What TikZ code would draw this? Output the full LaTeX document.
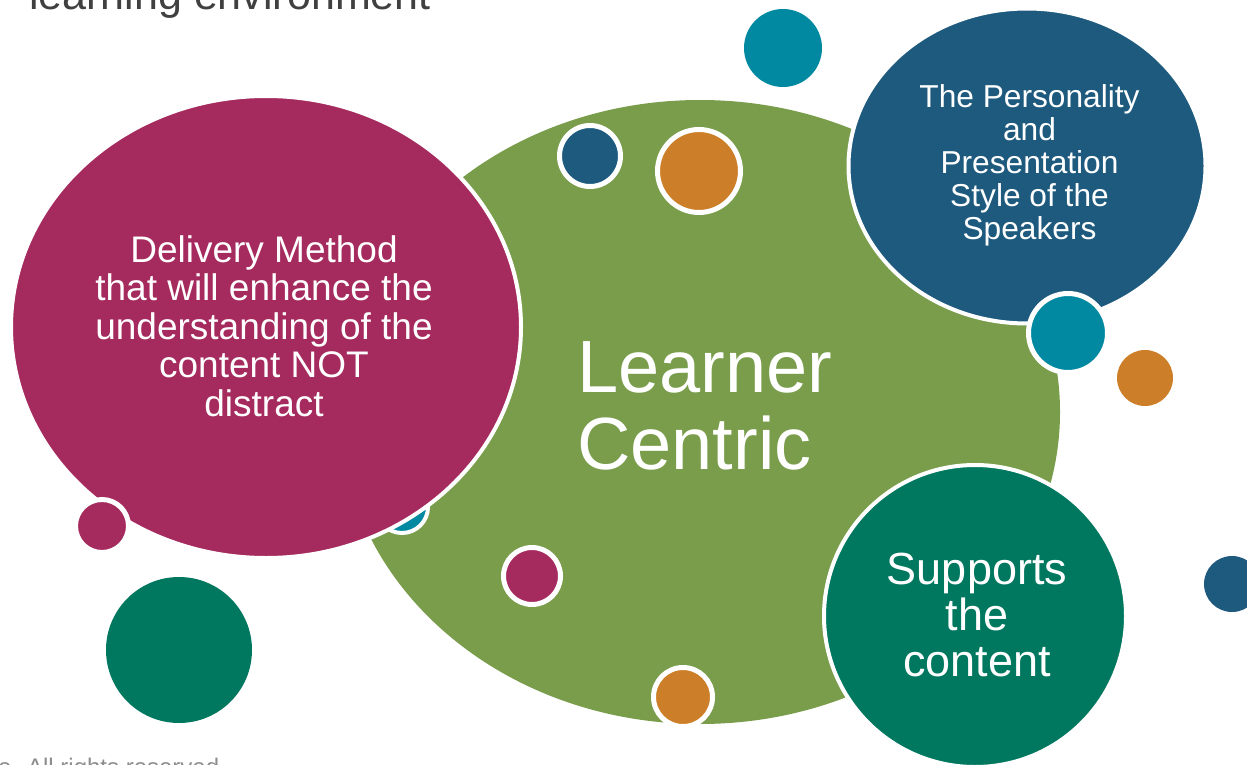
\documentclass[tikz,border=0pt]{standalone}
\usepackage{fontspec}
\setmainfont{Liberation Sans}
\usetikzlibrary{shapes.geometric}
\definecolor{lcgreen}{RGB}{122,157,75}
\definecolor{lcmagenta}{RGB}{165,42,94}
\definecolor{lcnavy}{RGB}{29,90,126}
\definecolor{lcteal}{RGB}{0,137,160}
\definecolor{lcorange}{RGB}{204,127,40}
\definecolor{lcdeep}{RGB}{0,119,95}
\definecolor{titlegray}{RGB}{64,64,64}
\definecolor{footgray}{RGB}{140,140,140}

\begin{document}
\begin{tikzpicture}[x=1pt,y=-1pt,
    ringed/.style={circle, inner sep=0pt, draw=white, line width=5pt},
    plain/.style={circle, inner sep=0pt},
    blob/.style={ellipse, inner sep=0pt, draw=white, line width=4pt},
    txt/.style={text=white, align=center, inner sep=0pt}]

    \useasboundingbox (0,0) rectangle (1247,765);
    \clip (0,0) rectangle (1247,765);

    \node (learner) [ellipse, inner sep=0pt, fill=lcgreen, minimum width=720pt, minimum height=624pt] at (700,412) {};
    \node (hidden) [ringed, line width=4pt, fill=lcteal, minimum size=52pt] at (402,507) {};
    \node (delivery) [blob, fill=lcmagenta, minimum width=510pt, minimum height=462pt] at (266,327) {};

    \foreach \p/\c/\d [count=\i] in {(102,526)/lcmagenta/53, (590,156)/lcnavy/61, (699,171)/lcorange/83, (532,576)/lcmagenta/57, (683,697)/lcorange/59}
        \node (ring\i) [ringed, fill=\c, minimum size=\d pt] at \p {};

    \node (personality) [blob, fill=lcnavy, minimum width=357pt, minimum height=315pt] at (1027,166) {};
    \node (tealring) [ringed, fill=lcteal, minimum size=79pt] at (1068,333) {};

    \foreach \p/\c/\d [count=\i] in {(783,48)/lcteal/78, (1145,378)/lcorange/56, (1232,584)/lcnavy/56, (179,650)/lcdeep/146}
        \node (dot\i) [plain, fill=\c, minimum size=\d pt] at \p {};

    \node (supports) [ringed, line width=4pt, fill=lcdeep, minimum size=302pt] at (975,616) {};

    \node (deliverytxt) [txt, font=\fontsize{37}{38.5}\selectfont] at (264,326) {Delivery Method\\that will enhance the\\understanding of the\\content NOT\\distract};
    \node (personalitytxt) [txt, font=\fontsize{31.7}{33}\selectfont] at (1029.5,165) {The Personality\\and\\Presentation\\Style of the\\Speakers};
    \node (supportstxt) [txt, font=\fontsize{45}{46}\selectfont] at (977,615) {Supports\\the\\content};
    \node (learnertxt) [txt, align=left, anchor=west, font=\fontsize{74}{77}\selectfont] at (577,405.5) {Learner\\Centric};

    \node (title) [anchor=base west, inner sep=0pt, text=titlegray, font=\fontsize{43}{48}\selectfont] at (29,10) {learning environment};
    \node (rights) [anchor=base west, inner sep=0pt, text=footgray, font=\fontsize{24}{27}\selectfont] at (-2,775) {e. All rights reserved};

\end{tikzpicture}
\end{document}
